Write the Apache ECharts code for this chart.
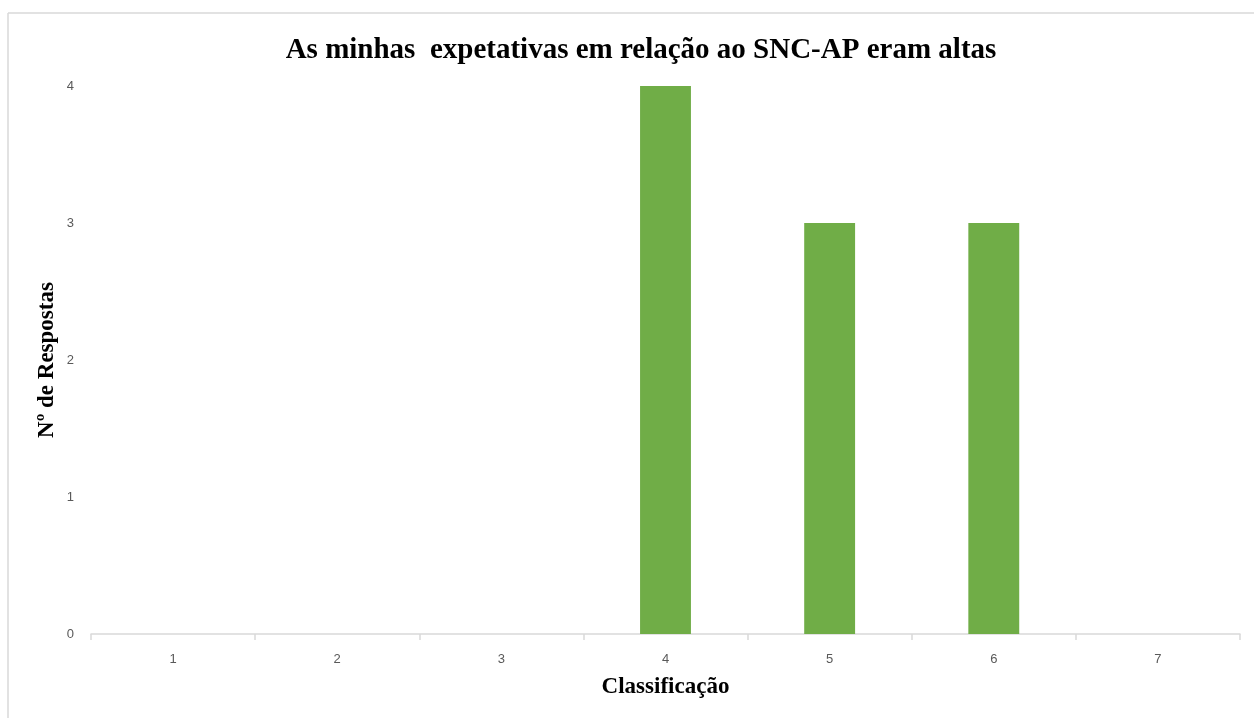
<!DOCTYPE html>
<html>
<head>
<meta charset="utf-8">
<script src="https://cdn.jsdelivr.net/npm/echarts@6/dist/echarts.min.js"></script>
<style>
  html, body { margin: 0; padding: 0; background: #ffffff; }
  #chart { width: 1254px; height: 718px; }
</style>
</head>
<body>
<div id="chart"></div>
<script>
// Survey responses per rating level
const categories = ['1', '2', '3', '4', '5', '6', '7'];
const responses = [0, 0, 0, 4, 3, 3, 0];
const yTicks = { min: 0, max: 4, interval: 1 };

const titleText = 'As minhas  expetativas em relação ao SNC-AP eram altas';
const xAxisName = 'Classificação';
const yAxisName = 'Nº de Respostas';

const serif = '"Liberation Serif", "DejaVu Serif", serif';
const sans = '"Liberation Sans", "Noto Sans", sans-serif';
const frameColor = '#d9d9d9';

const chart = echarts.init(document.getElementById('chart'), null, { renderer: 'canvas' });

chart.setOption({
  animation: false,
  backgroundColor: '#ffffff',
  title: {
    text: titleText,
    left: 636,
    top: 31,
    textAlign: 'center',
    textStyle: { fontFamily: serif, fontWeight: 'bold', fontSize: 29, color: '#000000' }
  },
  graphic: [
    // outer frame (top and left edges)
    { type: 'line', shape: { x1: 8, y1: 13, x2: 1254, y2: 13 }, style: { stroke: frameColor, lineWidth: 1.5 } },
    { type: 'line', shape: { x1: 8, y1: 13, x2: 8, y2: 718 }, style: { stroke: frameColor, lineWidth: 1.5 } }
  ],
  grid: { left: 91, right: 14, top: 86, bottom: 84, containLabel: false },
  xAxis: {
    type: 'category',
    data: categories,
    name: xAxisName,
    nameLocation: 'middle',
    nameGap: 42,
    nameMoveOverlap: false,
    nameTextStyle: { fontFamily: serif, fontWeight: 'bold', fontSize: 23, color: '#000000' },
    axisLine: { show: true, lineStyle: { color: frameColor, width: 1.5 } },
    axisTick: { show: true, alignWithLabel: false, length: 6, lineStyle: { color: frameColor, width: 1.5 } },
    axisLabel: { fontFamily: sans, fontSize: 13, color: '#595959', margin: 19 },
    splitLine: { show: false }
  },
  yAxis: {
    type: 'value',
    min: yTicks.min,
    max: yTicks.max,
    interval: yTicks.interval,
    name: yAxisName,
    nameLocation: 'middle',
    nameRotate: 90,
    nameGap: 32,
    nameMoveOverlap: false,
    nameTextStyle: { fontFamily: serif, fontWeight: 'bold', fontSize: 23, color: '#000000' },
    axisLine: { show: false },
    axisTick: { show: false },
    axisLabel: { fontFamily: sans, fontSize: 13, color: '#595959', margin: 17 },
    splitLine: { show: false }
  },
  series: [{
    type: 'bar',
    data: responses,
    barWidth: '31%',
    itemStyle: { color: '#70ad47' }
  }]
});
</script>
</body>
</html>
